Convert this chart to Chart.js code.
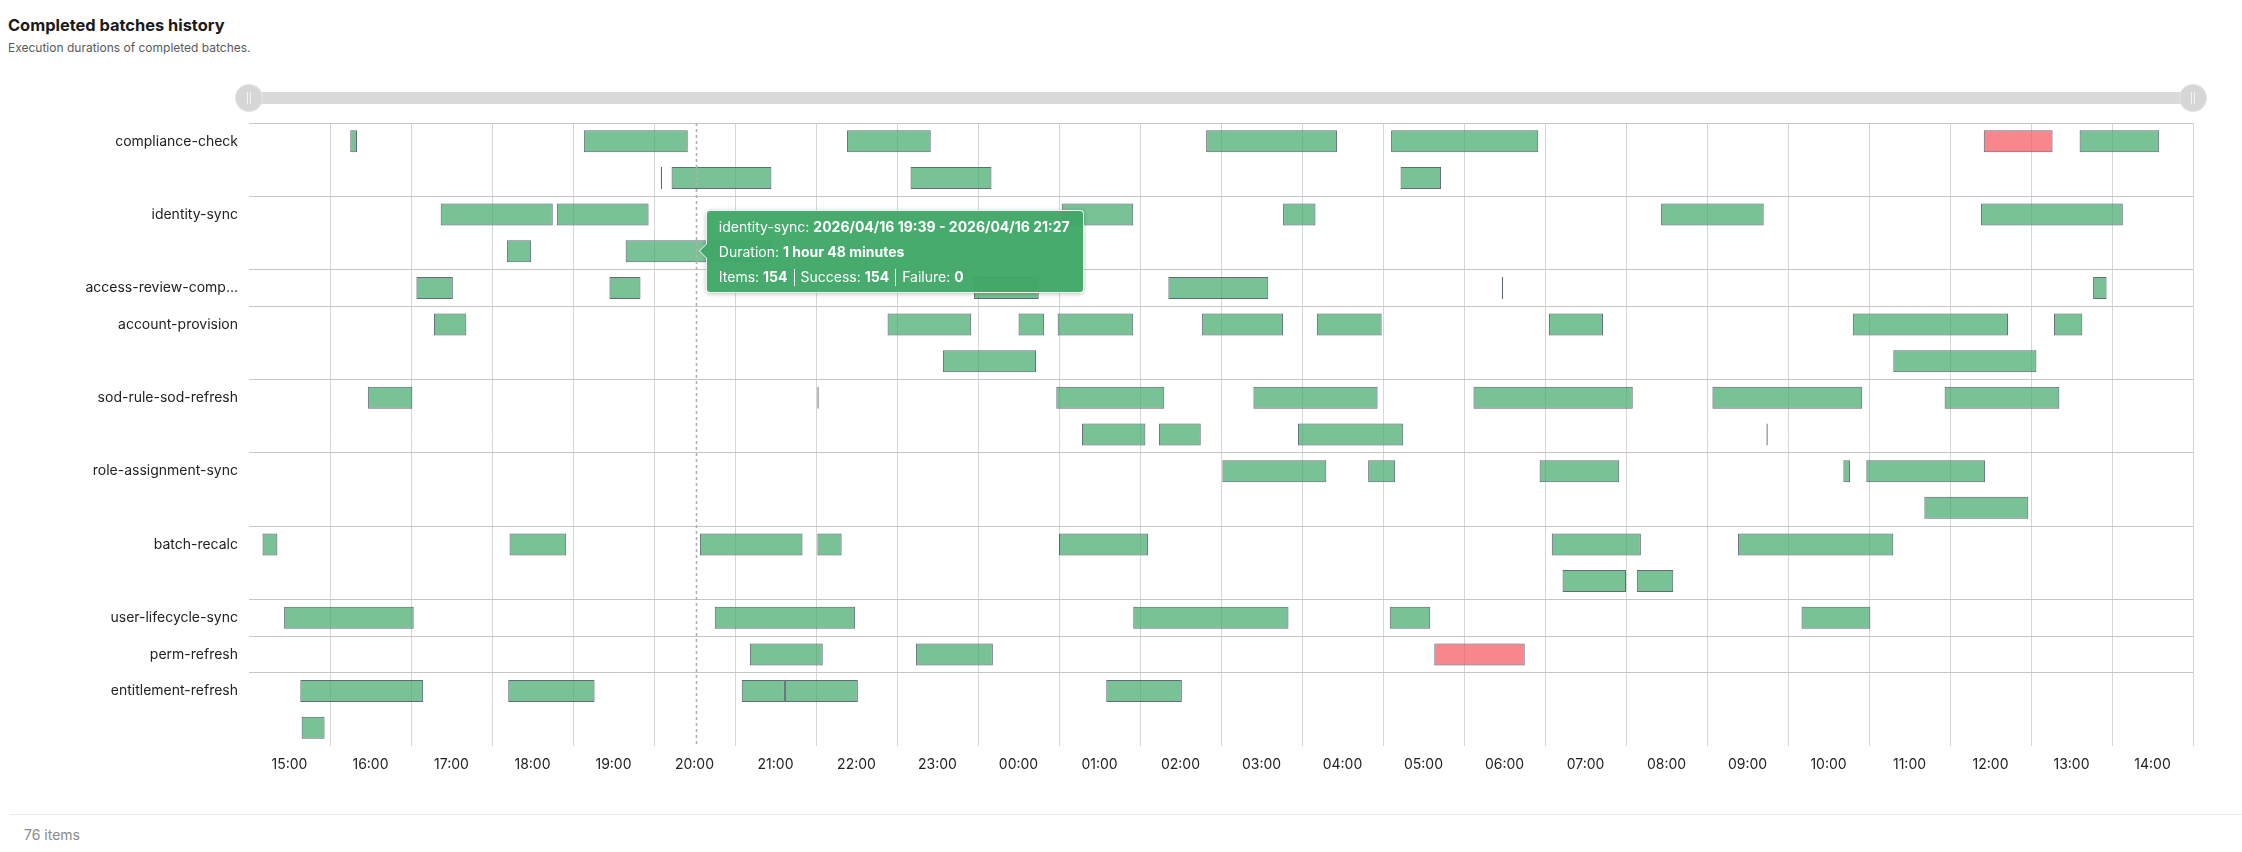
<!DOCTYPE html>
<html>
<head>
<meta charset="utf-8">
<title>Completed batches history</title>
<script src="https://cdn.jsdelivr.net/npm/chart.js@4.4.1/dist/chart.umd.min.js"></script>
<style>
  html, body { margin: 0; padding: 0; background: #ffffff; }
  body { width: 2242px; height: 852px; position: relative; overflow: hidden;
         font-family: Inter, "Noto Sans", sans-serif; color: #1f1f1f; }
  #title { position: absolute; left: 8px; top: 15px; font-size: 16.4px; font-weight: 700;
           line-height: 20px; color: #1a1a1a; white-space: nowrap; }
  #subtitle { position: absolute; left: 8px; top: 40px; font-size: 12px; line-height: 16px;
              color: #5a5a5a; white-space: nowrap; }
  #slider-track { position: absolute; left: 249px; width: 1944px; top: 92px; height: 12px;
                  background: #d9d9d9; border-radius: 6px; }
  .handle { position: absolute; top: 85px; width: 26px; height: 26px; margin-left: -13px;
            border-radius: 50%; background: #d6d6d6; box-shadow: 0 0 0 1px #e4e4e4; }
  .handle::before, .handle::after { content: ''; position: absolute; top: 7px; width: 1px;
            height: 12px; background: #f4f4f4; }
  .handle::before { left: 11px; }
  .handle::after { left: 14px; }
  #chart-wrap { position: absolute; left: 0; top: 110px; width: 2242px; height: 680px; }
  #sep { position: absolute; left: 10px; right: 0; top: 814px; height: 1px; background: #ececf1; }
  #count { position: absolute; left: 24px; top: 826px; font-size: 14px; line-height: 18px;
           color: #8a8a8a; }
  #tip { position: absolute; display: none; background: rgba(64, 168, 104, 0.96); color: #fff;
         border: 1px solid rgba(255,255,255,0.9); border-radius: 4px; padding: 3px 13px 3px 12px;
         font-size: 14px; line-height: 25px; white-space: nowrap;
         box-shadow: 0 1px 4px rgba(0,0,0,0.25); pointer-events: none; }
  #tip b { font-weight: 700; }
  #tip .sep { display: inline-block; width: 1px; height: 17px; background: #fff;
              vertical-align: -4px; margin: 0 6px; }
  #tip::before { content: ''; position: absolute; left: -8px; top: 50%; margin-top: -8px;
                 border-style: solid; border-width: 8px 8px 8px 0;
                 border-color: transparent rgba(255,255,255,0.9) transparent transparent; }
  #tip::after { content: ''; position: absolute; left: -7px; top: 50%; margin-top: -7px;
                border-style: solid; border-width: 7px 7px 7px 0;
                border-color: transparent rgba(64, 168, 104, 1) transparent transparent; }
</style>
</head>
<body>
<div id="title">Completed batches history</div>
<div id="subtitle">Execution durations of completed batches.</div>
<div id="slider-track"></div>
<div class="handle" style="left:249px"></div>
<div class="handle" style="left:2193px"></div>
<div id="chart-wrap"><canvas id="chart" width="2242" height="680" style="width:2242px;height:680px"></canvas></div>
<div id="tip"></div>
<div id="sep"></div>
<div id="count"></div>

<script>
// ---------------- data ----------------
const jobNames = [
  'compliance-check', 'identity-sync', 'access-review-comp...', 'account-provision',
  'sod-rule-sod-refresh', 'role-assignment-sync', 'batch-recalc', 'user-lifecycle-sync',
  'perm-refresh', 'entitlement-refresh'
];
const jobLaneCounts = [2, 2, 1, 2, 2, 2, 2, 1, 1, 2];

// runs: [lane, start, end, status]
const runsComplianceCheck = [
  [0, '16:15', '16:20', 'ok'], [0, '19:08', '20:25', 'ok'], [0, '22:23', '23:25', 'ok'],
  [0, '02:49', '04:26', 'ok'], [0, '05:06', '06:55', 'ok'], [0, '12:25', '13:16', 'failed'],
  [0, '13:36', '14:35', 'ok'],
  [1, '20:05', '20:06', 'ok'], [1, '20:13', '21:27', 'ok'], [1, '23:10', '00:10', 'ok'],
  [1, '05:13', '05:43', 'ok']
];
const runsIdentitySync = [
  [0, '17:22', '18:45', 'ok'], [0, '18:48', '19:56', 'ok'], [0, '01:02', '01:55', 'ok'],
  [0, '03:46', '04:10', 'ok'], [0, '08:26', '09:42', 'ok'], [0, '12:23', '14:08', 'ok'],
  [1, '18:11', '18:29', 'ok'], [1, '19:39', '21:27', 'ok']
];
const runsAccessReview = [
  [0, '17:04', '17:31', 'ok'], [0, '19:27', '19:50', 'ok'], [0, '23:57', '00:45', 'ok'],
  [0, '02:21', '03:35', 'ok'], [0, '06:28', '06:29', 'ok'], [0, '13:46', '13:56', 'ok']
];
const runsAccountProvision = [
  [0, '17:17', '17:41', 'ok'], [0, '22:53', '23:55', 'ok'], [0, '00:30', '00:49', 'ok'],
  [0, '00:59', '01:55', 'ok'], [0, '02:46', '03:46', 'ok'], [0, '04:11', '04:59', 'ok'],
  [0, '07:03', '07:43', 'ok'], [0, '10:48', '12:43', 'ok'], [0, '13:17', '13:38', 'ok'],
  [1, '23:34', '00:43', 'ok'], [1, '11:18', '13:04', 'ok']
];
const runsSodRuleRefresh = [
  [0, '16:28', '17:01', 'ok'], [0, '22:01', '22:02', 'ok'], [0, '00:58', '02:18', 'ok'],
  [0, '03:24', '04:56', 'ok'], [0, '06:07', '08:05', 'ok'], [0, '09:04', '10:55', 'ok'],
  [0, '11:56', '13:21', 'ok'],
  [1, '01:17', '02:04', 'ok'], [1, '02:14', '02:45', 'ok'], [1, '03:57', '05:15', 'ok'],
  [1, '09:44', '09:45', 'ok']
];
const runsRoleAssignmentSync = [
  [0, '03:01', '04:18', 'ok'], [0, '04:49', '05:09', 'ok'], [0, '06:56', '07:55', 'ok'],
  [0, '10:41', '10:46', 'ok'], [0, '10:58', '12:26', 'ok'],
  [1, '11:41', '12:58', 'ok']
];
const runsBatchRecalc = [
  [0, '15:10', '15:21', 'ok'], [0, '18:13', '18:55', 'ok'], [0, '20:34', '21:50', 'ok'],
  [0, '22:01', '22:19', 'ok'], [0, '01:00', '02:06', 'ok'], [0, '07:05', '08:11', 'ok'],
  [0, '09:23', '11:18', 'ok'],
  [1, '07:13', '08:00', 'ok'], [1, '08:08', '08:35', 'ok']
];
const runsUserLifecycleSync = [
  [0, '15:26', '17:02', 'ok'], [0, '20:45', '22:29', 'ok'], [0, '01:55', '03:50', 'ok'],
  [0, '05:05', '05:35', 'ok'], [0, '10:10', '11:01', 'ok']
];
const runsPermRefresh = [
  [0, '21:11', '22:05', 'ok'], [0, '23:14', '00:11', 'ok'], [0, '05:38', '06:45', 'failed']
];
const runsEntitlementRefresh = [
  [0, '15:38', '17:09', 'ok'], [0, '18:12', '19:16', 'ok'], [0, '21:05', '21:37', 'ok'],
  [0, '21:37', '22:31', 'ok'], [0, '01:35', '02:31', 'ok'],
  [1, '15:39', '15:56', 'ok']
];
const runsByJob = [
  runsComplianceCheck, runsIdentitySync, runsAccessReview, runsAccountProvision,
  runsSodRuleRefresh, runsRoleAssignmentSync, runsBatchRecalc, runsUserLifecycleSync,
  runsPermRefresh, runsEntitlementRefresh
];

// axis / window
const windowStartHour = 15;          // 2026/04/16 15:00 -> 2026/04/17 15:00
const windowHours = 24;
const dayOneDate = '2026/04/16';
const dayTwoDate = '2026/04/17';

// hovered run shown in the tooltip (job, lane, start) and its item counts
const hoveredRun = ['identity-sync', 1, '19:39'];
const hoveredRunCounts = [154, 154, 0];   // items, success, failure
const hoverCursorTime = '20:31';

// ---------------- helpers ----------------
function toOffset(t) {
  const [h, m] = t.split(':').map(Number);
  return ((h - windowStartHour + 24) % 24) + m / 60;
}
function fullDate(t) {
  return toOffset(t) < (24 - windowStartHour) ? dayOneDate : dayTwoDate;
}

// lane layout
const laneStart = [];
let laneTotal = 0;
jobLaneCounts.forEach(c => { laneStart.push(laneTotal); laneTotal += c; });
const boundaries = laneStart.concat([laneTotal]);

const points = [];
runsByJob.forEach((runs, j) => {
  runs.forEach(r => {
    points.push({
      x: [toOffset(r[1]), toOffset(r[2])],
      y: laneStart[j] + r[0] + 0.5,
      job: jobNames[j], lane: r[0], start: r[1], end: r[2], status: r[3]
    });
  });
});
document.getElementById('count').textContent = points.length + ' items';

// ---------------- chart ----------------
Chart.defaults.font.family = 'Inter, "Noto Sans", sans-serif';
Chart.defaults.font.size = 14;
Chart.defaults.color = '#222222';

Chart.Tooltip.positioners.cursor = function (elements, eventPosition) {
  if (!eventPosition) return false;
  return { x: eventPosition.x, y: eventPosition.y };
};

function durationText(s, e) {
  const mins = Math.round((toOffset(e) - toOffset(s)) * 60);
  const h = Math.floor(mins / 60), m = mins % 60;
  const parts = [];
  if (h > 0) parts.push(h + (h === 1 ? ' hour' : ' hours'));
  if (m > 0 || h === 0) parts.push(m + (m === 1 ? ' minute' : ' minutes'));
  return parts.join(' ');
}

function externalTooltip(context) {
  const tip = document.getElementById('tip');
  const t = context.tooltip;
  if (!t || t.opacity === 0 || !t.dataPoints || !t.dataPoints.length) { tip.style.display = 'none'; return; }
  const raw = t.dataPoints[0].raw;
  tip.innerHTML =
    '<div>' + raw.job + ': <b>' + fullDate(raw.start) + ' ' + raw.start + ' - ' +
      fullDate(raw.end) + ' ' + raw.end + '</b></div>' +
    '<div>Duration: <b>' + durationText(raw.start, raw.end) + '</b></div>' +
    '<div>Items: <b>' + hoveredRunCounts[0] + '</b><span class="sep"></span>Success: <b>' +
      hoveredRunCounts[1] + '</b><span class="sep"></span>Failure: <b>' + hoveredRunCounts[2] + '</b></div>';
  tip.style.display = 'block';
  const wrap = document.getElementById('chart-wrap');
  const left = wrap.offsetLeft + t.caretX + 10;
  const top = wrap.offsetTop + t.caretY - tip.offsetHeight / 2;
  tip.style.left = left + 'px';
  tip.style.top = top + 'px';
}

const crosshairPlugin = {
  id: 'crosshair',
  afterDatasetsDraw(chart) {
    const x = chart.scales.x.getPixelForValue(toOffset(hoverCursorTime));
    const { top, bottom } = chart.chartArea;
    const c = chart.ctx;
    c.save();
    c.strokeStyle = '#b0b0b0';
    c.lineWidth = 1.6;
    c.setLineDash([3, 3]);
    c.beginPath();
    c.moveTo(Math.round(x) + 0.5, top);
    c.lineTo(Math.round(x) + 0.5, bottom);
    c.stroke();
    c.restore();
  }
};

function noScalePadding(s) {
  s.paddingTop = 0; s.paddingBottom = 0; s.paddingLeft = 0; s.paddingRight = 0;
}

const chart = new Chart(document.getElementById('chart'), {
  type: 'bar',
  data: {
    datasets: [{
      data: points,
      backgroundColor: ctx => (ctx.raw && ctx.raw.status === 'failed') ? 'rgba(243, 84, 92, 0.7)' : 'rgba(62, 168, 104, 0.7)',
      borderColor: 'rgba(76, 84, 100, 0.88)',
      borderWidth: 1,
      borderSkipped: false,
      barPercentage: 0.6,
      categoryPercentage: 1,
      grouped: false
    }]
  },
  options: {
    indexAxis: 'y',
    responsive: false,
    animation: false,
    events: [],
    layout: { padding: { top: 13, right: 49, bottom: 0, left: 0 } },
    scales: {
      x: {
        type: 'linear', position: 'bottom', min: 0, max: windowHours, offset: false,
        afterBuildTicks: s => { s.ticks = Array.from({ length: windowHours + 1 }, (_, i) => ({ value: i })); },
        afterFit: s => { s.height = 44; noScalePadding(s); },
        ticks: {
          autoSkip: false, maxRotation: 0, padding: 10, color: '#222222',
          font: { size: 14 },
          callback: v => v >= windowHours ? '' : String((windowStartHour + v) % 24).padStart(2, '0') + ':00'
        },
        grid: {
          drawTicks: false, lineWidth: 1, offset: false,
          color: ctx => (ctx.tick && ctx.tick.value === 0) ? 'rgba(0,0,0,0)' : '#d6d6d6'
        },
        border: { display: false }
      },
      y: {
        type: 'linear', reverse: true, min: 0, max: laneTotal, offset: false, grace: 0,
        afterBuildTicks: s => { s.ticks = boundaries.map(v => ({ value: v })); },
        afterFit: s => { s.width = 249; noScalePadding(s); },
        ticks: {
          autoSkip: false, padding: 11, color: '#222222', font: { size: 14 },
          callback: v => { const i = laneStart.indexOf(v); return i >= 0 ? jobNames[i] : ''; }
        },
        grid: {
          drawTicks: false, lineWidth: 1, offset: false,
          color: ctx => (ctx.tick && ctx.tick.value === laneTotal) ? 'rgba(0,0,0,0)' : '#c6c6c6'
        },
        border: { display: false }
      }
    },
    plugins: {
      legend: { display: false },
      tooltip: { enabled: false, position: 'cursor', external: externalTooltip }
    }
  },
  plugins: [crosshairPlugin]
});

// centre tick labels inside their hour slot / first lane
chart.options.scales.x.ticks.labelOffset = chart.scales.x.width / windowHours / 2;
chart.options.scales.y.ticks.labelOffset = chart.scales.y.height / laneTotal / 2;
chart.update();

// show the hovered run's tooltip
const hIdx = points.findIndex(p => p.job === hoveredRun[0] && p.lane === hoveredRun[1] && p.start === hoveredRun[2]);
const hPoint = points[hIdx];
chart.tooltip.setActiveElements([{ datasetIndex: 0, index: hIdx }], {
  x: chart.scales.x.getPixelForValue(toOffset(hoverCursorTime)),
  y: chart.scales.y.getPixelForValue(hPoint.y)
});
chart.draw();
</script>
</body>
</html>
